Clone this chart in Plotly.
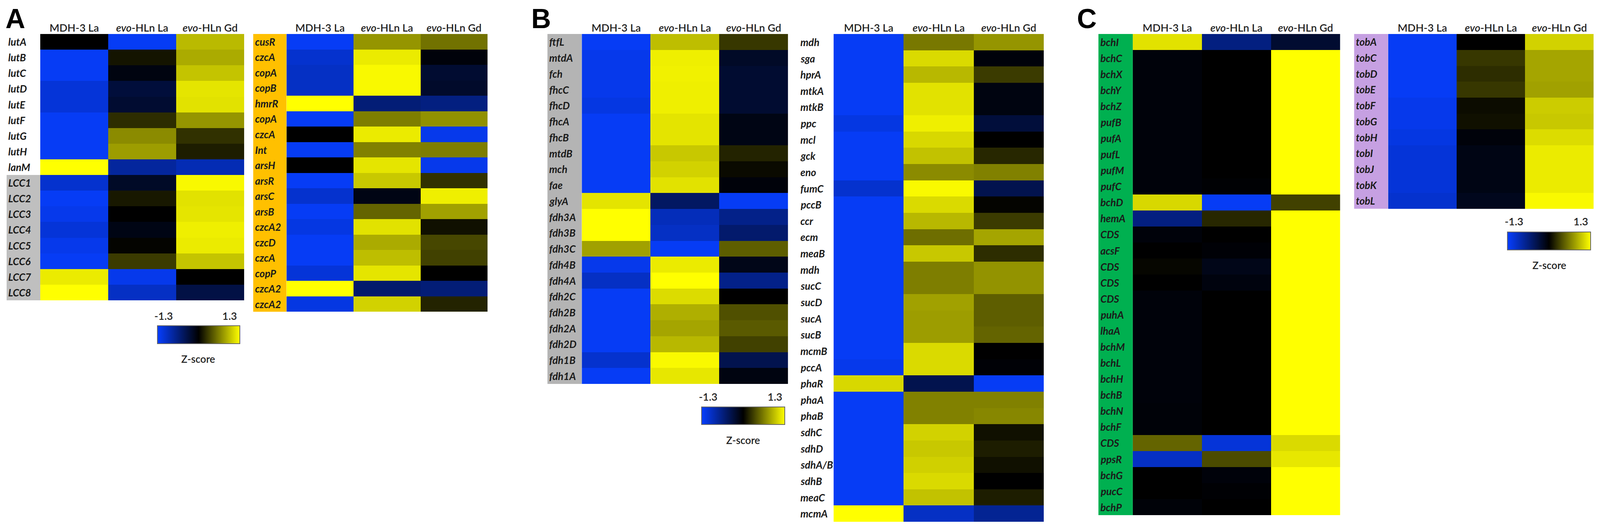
import plotly.graph_objects as go

# Reference geometry is expressed in pixels of a 4550 x 1352 canvas and converted to
# paper fractions, so the figure can fill whatever width the browser window offers.
W, H = 4550, 1352

# ---------------- data ----------------
col_labels = ["MDH-3 La", "<i>evo</i>-HLn La", "<i>evo</i>-HLn Gd"]
z_ticks = [-1.3, 1.3]

# Panel A (left)
a1_genes = ["lutA", "lutB", "lutC", "lutD", "lutE", "lutF", "lutG", "lutH", "lanM",
            "LCC1", "LCC2", "LCC3", "LCC4", "LCC5", "LCC6", "LCC7", "LCC8"]
a1_mdh = [0.0, -1.25, -1.25, -1.1, -1.1, -1.25, -1.25, -1.25, 1.3,
          -1.05, -1.25, -1.2, -1.1, -1.2, -1.25, 1.2, 1.3]
a1_la = [-1.25, 0.1, -0.08, -0.3, -0.25, 0.23, 0.71, 0.8, -0.8,
         -0.2, 0.12, 0.0, -0.1, 0.02, 0.3, -1.2, -1.0]
a1_gd = [0.95, 0.87, 1.0, 1.17, 1.15, 0.76, 0.25, 0.15, -0.92,
         1.27, 1.15, 1.17, 1.22, 1.2, 1.0, 0.0, -0.35]
a1_groups = ["none"] * 9 + ["grey"] * 8

# Panel A (right)
a2_genes = ["cusR", "czcA", "copA", "copB", "hmrR", "copA", "czcA", "Int", "arsH",
            "arsR", "arsC", "arsB", "czcA2", "czcD", "czcA", "copP", "czcA2", "czcA2"]
a2_mdh = [-1.25, -1.05, -1.0, -1.0, 1.3, -1.25, 0.0, -1.25, 0.0,
          -1.25, -1.05, -1.25, -1.15, -1.25, -1.25, -1.1, 1.3, -1.15]
a2_la = [0.76, 1.2, 1.27, 1.27, -0.6, 0.64, 1.2, 0.66, 1.17,
         1.02, -0.1, 0.51, 1.15, 0.87, 0.97, 1.17, -0.55, 1.07]
a2_gd = [0.58, -0.05, -0.25, -0.22, -0.65, 0.74, -1.2, 0.64, -1.2,
         0.25, 1.22, 0.82, 0.08, 0.36, 0.33, 0.0, -0.6, 0.18]
a2_groups = ["orange"] * 18

# Panel B (left)
b1_genes = ["ftfL", "mtdA", "fch", "fhcC", "fhcD", "fhcA", "fhcB", "mtdB", "mch", "fae",
            "glyA", "fdh3A", "fdh3B", "fdh3C", "fdh4B", "fdh4A", "fdh2C", "fdh2B",
            "fdh2A", "fdh2D", "fdh1B", "fdh1A"]
b1_mdh = [-1.25, -1.2, -1.2, -1.2, -1.15, -1.25, -1.25, -1.25, -1.25, -1.25,
          1.16, 1.3, 1.3, 0.82, -1.2, -1.0, -1.25, -1.25, -1.25, -1.25, -1.05, -1.25]
b1_la = [0.97, 1.22, 1.23, 1.22, 1.22, 1.16, 1.16, 1.02, 1.07, 1.15,
         -0.5, -0.95, -1.0, -1.25, 1.2, 1.3, 1.12, 0.89, 0.84, 0.94, 1.27, 1.18]
b1_gd = [0.28, -0.2, -0.25, -0.25, -0.25, -0.1, -0.1, 0.18, 0.05, -0.05,
         -1.25, -0.7, -0.55, 0.48, -0.12, -0.7, 0.0, 0.41, 0.46, 0.33, -0.4, -0.08]
b1_groups = ["grey2"] * 22

# Panel B (right)
b2_genes = ["mdh", "sga", "hprA", "mtkA", "mtkB", "ppc", "mcl", "gck", "eno", "fumC",
            "pccB", "ccr", "ecm", "meaB", "mdh", "sucC", "sucD", "sucA", "sucB", "mcmB",
            "pccA", "phaR", "phaA", "phaB", "sdhC", "sdhD", "sdhA/B", "sdhB", "meaC", "mcmA"]
b2_mdh = [-1.25, -1.25, -1.25, -1.25, -1.25, -1.15, -1.25, -1.25, -1.25, -1.05,
          -1.25, -1.25, -1.25, -1.25, -1.25, -1.25, -1.25, -1.25, -1.25, -1.25,
          -1.2, 1.1, -1.25, -1.25, -1.25, -1.25, -1.25, -1.25, -1.25, 1.3]
b2_la = [0.61, 1.11, 0.94, 1.15, 1.15, 1.22, 1.1, 0.99, 0.71, 1.27,
         1.11, 0.94, 0.56, 1.02, 0.64, 0.64, 0.82, 0.8, 0.8, 1.11,
         1.11, -0.4, 0.66, 0.66, 1.07, 1.02, 1.06, 1.11, 0.99, -1.0]
b2_gd = [0.76, -0.05, 0.3, -0.08, -0.08, -0.3, 0.0, 0.2, 0.66, -0.4,
         0.02, 0.3, 0.84, 0.23, 0.75, 0.75, 0.48, 0.48, 0.51, 0.0,
         -0.03, -1.25, 0.66, 0.69, 0.08, 0.15, 0.08, 0.0, 0.15, -0.75]
b2_groups = ["none"] * 30

# Panel C (left)
c1_genes = ["bchI", "bchC", "bchX", "bchY", "bchZ", "pufB", "pufA", "pufL", "pufM", "pufC",
            "bchD", "hemA", "CDS", "acsF", "CDS", "CDS", "CDS", "puhA", "lhaA", "bchM",
            "bchL", "bchH", "bchB", "bchN", "bchF", "CDS", "ppsR", "bchG", "pucC", "bchP"]
c1_mdh = [1.15, -0.05, -0.05, -0.05, -0.05, -0.05, -0.05, -0.05, -0.05, -0.05,
          1.1, -0.65, -0.05, 0.0, 0.03, 0.0, -0.05, -0.05, -0.05, -0.05,
          -0.05, -0.05, -0.05, -0.04, -0.04, 0.51, -1.0, 0.0, 0.0, -0.04]
c1_la = [-0.65, 0.0, 0.0, 0.0, 0.0, 0.0, 0.0, 0.0, 0.0, -0.02,
         -1.25, 0.2, 0.0, -0.03, -0.12, -0.07, 0.0, 0.0, 0.0, 0.0,
         0.0, 0.0, 0.0, 0.0, 0.0, -1.1, 0.38, -0.05, -0.02, 0.0]
c1_gd = [-0.25, 1.3, 1.3, 1.3, 1.3, 1.3, 1.3, 1.3, 1.3, 1.3,
         0.33, 1.3, 1.3, 1.3, 1.3, 1.3, 1.3, 1.3, 1.3, 1.3,
         1.3, 1.3, 1.3, 1.3, 1.3, 1.11, 1.18, 1.3, 1.3, 1.3]
c1_groups = ["green"] * 30

# Panel C (right)
c2_genes = ["tobA", "tobC", "tobD", "tobE", "tobF", "tobG", "tobH", "tobI", "tobJ", "tobK", "tobL"]
c2_mdh = [-1.25, -1.25, -1.25, -1.25, -1.2, -1.2, -1.15, -1.1, -1.1, -1.1, -1.05]
c2_la = [0.0, 0.28, 0.23, 0.28, 0.06, 0.08, -0.05, -0.1, -0.1, -0.1, -0.15]
c2_gd = [1.07, 0.84, 0.84, 0.82, 1.04, 1.02, 1.12, 1.2, 1.2, 1.2, 1.27]
c2_groups = ["purple"] * 11

# ---------------- styling / layout ----------------
colorscale = [[0.0, "rgb(6,62,255)"], [0.5, "rgb(0,0,0)"], [1.0, "rgb(255,255,0)"]]
group_colors = {"grey": "#bfbfbf", "grey2": "#b4b4b4", "orange": "#ffc000",
                "green": "#00b050", "purple": "#c6a0e2"}

panels = [
    dict(genes=a1_genes, vals=(a1_mdh, a1_la, a1_gd), groups=a1_groups,
         x0=106, x1=688, top=80, bottom=770, lab=12, bx0=10, bx1=106),
    dict(genes=a2_genes, vals=(a2_mdh, a2_la, a2_gd), groups=a2_groups,
         x0=809, x1=1383, top=80, bottom=800, lab=717, bx0=714, bx1=809),
    dict(genes=b1_genes, vals=(b1_mdh, b1_la, b1_gd), groups=b1_groups,
         x0=1652, x1=2241, top=80, bottom=987, lab=1557, bx0=1554, bx1=1652),
    dict(genes=b2_genes, vals=(b2_mdh, b2_la, b2_gd), groups=b2_groups,
         x0=2371, x1=2971, top=80, bottom=1344, lab=2274, bx0=None, bx1=None),
    dict(genes=c1_genes, vals=(c1_mdh, c1_la, c1_gd), groups=c1_groups,
         x0=3225, x1=3817, top=80, bottom=1327, lab=3130, bx0=3127, bx1=3225),
    dict(genes=c2_genes, vals=(c2_mdh, c2_la, c2_gd), groups=c2_groups,
         x0=3954, x1=4541, top=80, bottom=533, lab=3860, bx0=3857, bx1=3954),
]

# colorbars: trace index -> (bar left, bar right, bar top, bar bottom, label y, title y)
colorbars = {0: (440, 675, 836, 882, 810, 922),
             2: (1994, 2232, 1046, 1091, 1020, 1132),
             5: (4295, 4533, 593, 639, 565, 679)}

letters = [("A", 35), ("B", 1536), ("C", 3094)]

FONT = "Lato, 'Open Sans', sans-serif"
LABEL_SIZE = 26

fig = go.Figure()
layout = dict(autosize=True, height=1336, margin=dict(l=0, r=0, t=0, b=0, pad=0),
              paper_bgcolor="white", plot_bgcolor="white", showlegend=False)
annotations = []
shapes = []

for i, p in enumerate(panels):
    k = "" if i == 0 else str(i + 1)
    n = len(p["genes"])
    z = [[p["vals"][c][r] for c in range(3)] for r in range(n)]
    tr = dict(z=z, x=[0, 1, 2], y=list(range(n)), colorscale=colorscale,
              zmin=-1.3, zmax=1.3, showscale=False, hoverinfo="skip",
              xaxis="x" + k, yaxis="y" + k)
    if i in colorbars:
        l, r_, t, b, ly, ty = colorbars[i]
        tr["showscale"] = True
        tr["colorbar"] = dict(orientation="h", lenmode="fraction", len=(r_ - l) / W,
                              thicknessmode="pixels", thickness=b - t,
                              x=l / W, xanchor="left", y=1 - t / H, yanchor="top",
                              xpad=0, ypad=0, outlinewidth=2, outlinecolor="#666666",
                              showticklabels=False, ticks="")
        span = r_ - l
        offsets = [0.08, -0.12]
        for v, off in zip(z_ticks, offsets):
            frac = (v - z_ticks[0]) / (z_ticks[1] - z_ticks[0])
            annotations.append(dict(text=f"{v:g}", xref="paper", yref="paper",
                                    x=(l + frac * span + off * span) / W, y=1 - ly / H,
                                    xanchor="center", yanchor="middle", showarrow=False,
                                    font=dict(family=FONT, size=27, color="#222222", weight=600)))
        annotations.append(dict(text="Z-score", xref="paper", yref="paper",
                                x=(l + r_) / 2 / W, y=1 - ty / H, xanchor="center",
                                yanchor="middle", showarrow=False,
                                font=dict(family=FONT, size=26, color="#222222", weight=600)))
    fig.add_trace(go.Heatmap(**tr))

    layout["xaxis" + k] = dict(domain=[p["x0"] / W, p["x1"] / W], range=[-0.5, 2.5],
                               side="top", tickvals=[0, 1, 2], ticktext=col_labels,
                               ticks="", showgrid=False, zeroline=False, showline=False,
                               tickfont=dict(family=FONT, size=27, color="#222222", weight=600),
                               anchor="y" + k, fixedrange=True)
    layout["yaxis" + k] = dict(domain=[1 - p["bottom"] / H, 1 - p["top"] / H],
                               range=[n - 0.5, -0.5], visible=False,
                               anchor="x" + k, fixedrange=True)

    # coloured label background boxes, one per run of the same group
    if p["bx0"] is not None:
        r = 0
        while r < n:
            g = p["groups"][r]
            s = r
            while r < n and p["groups"][r] == g:
                r += 1
            if g in group_colors:
                shapes.append(dict(type="rect", xref="paper", yref="y" + k,
                                   x0=p["bx0"] / W, x1=p["bx1"] / W, y0=s - 0.5, y1=r - 0.5,
                                   fillcolor=group_colors[g], line=dict(width=0), layer="below"))
    for r, g in enumerate(p["genes"]):
        annotations.append(dict(text=g, xref="paper", yref="y" + k, x=p["lab"] / W, y=r,
                                xanchor="left", yanchor="middle", showarrow=False,
                                font=dict(family=FONT, size=LABEL_SIZE, color="#1a1a1a",
                                          weight="bold", style="italic")))

for letter, cx in letters:
    annotations.append(dict(text=letter, xref="paper", yref="paper", x=cx / W, y=1.0,
                            xanchor="center", yanchor="top", showarrow=False, borderpad=0,
                            font=dict(family="Liberation Sans, Arial, sans-serif", size=70,
                                      color="black", weight="bold")))

layout["annotations"] = annotations
layout["shapes"] = shapes
fig.update_layout(**layout)
fig.write_html("out.html", config={"responsive": True})
